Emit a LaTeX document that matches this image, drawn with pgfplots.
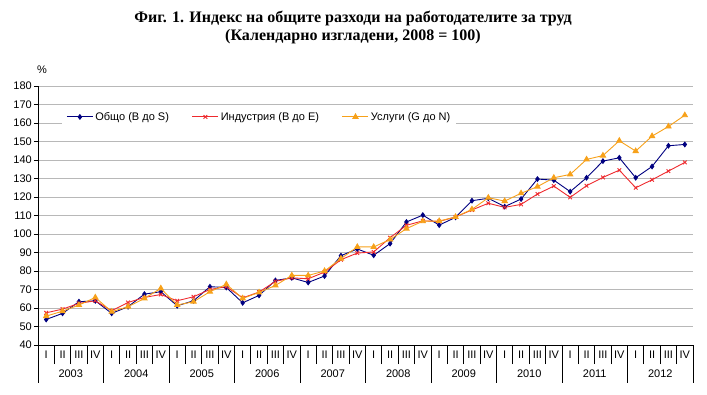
\documentclass[border=0pt]{standalone}
\usepackage{fontspec}
\setmainfont{Liberation Sans}
\newfontfamily\titlefont{Liberation Serif}
\usepackage{pgfplots}
\usepackage{pgfplotstable}
\pgfplotsset{compat=1.18}
\definecolor{cblue}{HTML}{000080}
\definecolor{cred}{HTML}{EE2A2E}
\definecolor{corange}{HTML}{F7A11A}
\definecolor{cgrid}{HTML}{B8B8B8}

\pgfplotstableread{
x total ind serv
0 53.8 57.4 55.6
1 57.1 59.4 58.3
2 63.4 62.5 61.6
3 63.9 63.9 65.7
4 57.1 58.5 58.0
5 60.7 63.0 60.7
6 67.5 65.7 65.2
7 68.8 67.3 70.6
8 61.2 63.9 61.6
9 63.9 66.1 63.4
10 71.5 70.0 68.8
11 71.1 71.5 72.8
12 62.8 65.5 65.2
13 66.8 68.6 68.4
14 74.9 74.4 72.2
15 76.3 76.3 77.6
16 73.8 75.8 77.6
17 77.3 79.4 80.0
18 88.3 86.1 86.7
19 91.9 89.7 93.0
20 88.5 90.3 93.0
21 94.8 98.0 97.0
22 106.5 104.7 102.9
23 110.2 107.1 106.9
24 104.8 106.8 107.0
25 109.0 109.2 109.2
26 118.0 113.0 113.3
27 119.3 116.6 119.6
28 114.8 114.4 117.8
29 118.9 116.0 122.0
30 129.7 121.6 125.6
31 129.1 125.9 130.4
32 122.9 119.8 132.2
33 130.4 126.1 140.3
34 139.4 130.6 142.4
35 141.2 134.5 150.4
36 130.4 125.0 144.8
37 136.5 129.3 152.9
38 147.7 134.0 158.1
39 148.4 138.7 164.2
}\data

\begin{document}
\begin{tikzpicture}[font=\fontsize{11bp}{13bp}\selectfont]
\begin{axis}[
  name=ax,
  scale only axis, width=655bp, height=259bp,
  xmin=-0.5, xmax=39.5, ymin=40, ymax=180,
  clip=false,
  axis x line*=bottom, axis y line*=left,
  axis line style={black, line width=0.8bp},
  ytick={40,50,...,180},
  ymajorgrids,
  major grid style={cgrid, line width=0.9bp},
  tick align=outside,
  major tick length=4bp,
  minor tick length=19bp,
  tick style={black, line width=0.8bp},
  xtick={0,...,39},
  every major x tick/.style={draw=none},
  minor x tick num=1,
  xticklabels={I,II,III,IV,I,II,III,IV,I,II,III,IV,I,II,III,IV,I,II,III,IV,I,II,III,IV,I,II,III,IV,I,II,III,IV,I,II,III,IV,I,II,III,IV},
  xticklabel style={inner sep=1bp, yshift=-1bp},
  yticklabel style={inner sep=2bp},
  /pgf/number format/assume math mode=true,
  legend columns=3,
  legend style={at={(0.037,0.919)}, anchor=north west, draw=none, fill=white,
    inner xsep=4bp, inner ysep=3bp,
    font=\fontsize{11bp}{13bp}\selectfont,
    /tikz/every even column/.append style={column sep=21bp}},
  legend image code/.code={\draw[mark repeat=2,mark phase=2] plot coordinates {(0bp,0bp) (13bp,0bp) (26bp,0bp)};},
]
\addplot[cblue, line width=0.9bp, mark=diamond*, mark size=2.3bp] table[x=x,y=total] {\data};
\addlegendentry{Общо (B до S)}
\addplot[cred, line width=0.9bp, mark=x, mark size=2.6bp] table[x=x,y=ind] {\data};
\addlegendentry{Индустрия (B до E)}
\addplot[corange, line width=0.9bp, mark=triangle*, mark size=3bp] table[x=x,y=serv] {\data};
\addlegendentry{Услуги (G до N)}

\draw[black, line width=0.8bp] (axis cs:-0.5,40) -- ++(0bp,-38bp);
\draw[black, line width=0.8bp] (axis cs:3.5,40) -- ++(0bp,-38bp);
\draw[black, line width=0.8bp] (axis cs:7.5,40) -- ++(0bp,-38bp);
\draw[black, line width=0.8bp] (axis cs:11.5,40) -- ++(0bp,-38bp);
\draw[black, line width=0.8bp] (axis cs:15.5,40) -- ++(0bp,-38bp);
\draw[black, line width=0.8bp] (axis cs:19.5,40) -- ++(0bp,-38bp);
\draw[black, line width=0.8bp] (axis cs:23.5,40) -- ++(0bp,-38bp);
\draw[black, line width=0.8bp] (axis cs:27.5,40) -- ++(0bp,-38bp);
\draw[black, line width=0.8bp] (axis cs:31.5,40) -- ++(0bp,-38bp);
\draw[black, line width=0.8bp] (axis cs:35.5,40) -- ++(0bp,-38bp);
\draw[black, line width=0.8bp] (axis cs:39.5,40) -- ++(0bp,-38bp);

\node at (axis cs:1.5,40) [yshift=-29bp] {2003};
\node at (axis cs:5.5,40) [yshift=-29bp] {2004};
\node at (axis cs:9.5,40) [yshift=-29bp] {2005};
\node at (axis cs:13.5,40) [yshift=-29bp] {2006};
\node at (axis cs:17.5,40) [yshift=-29bp] {2007};
\node at (axis cs:21.5,40) [yshift=-29bp] {2008};
\node at (axis cs:25.5,40) [yshift=-29bp] {2009};
\node at (axis cs:29.5,40) [yshift=-29bp] {2010};
\node at (axis cs:33.5,40) [yshift=-29bp] {2011};
\node at (axis cs:37.5,40) [yshift=-29bp] {2012};

\node at (rel axis cs:0,1) [xshift=4bp, yshift=16bp] {\%};
\end{axis}
\node[align=center, font=\titlefont\bfseries\fontsize{16bp}{18bp}\selectfont]
  at (ax.north) [xshift=-12.5bp, yshift=59bp]
  {Фиг. 1. Индекс на общите разходи на работодателите за труд\\(Календарно изгладени, 2008 = 100)};
\pgfresetboundingbox
\path (ax.south west) +(-38bp,-50bp) (ax.north east) +(14bp,86bp);
\end{tikzpicture}
\end{document}
